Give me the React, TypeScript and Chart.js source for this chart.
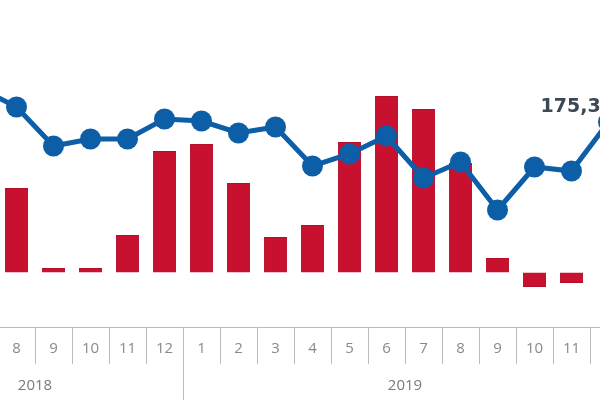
import React, { useEffect, useRef } from "react";
import { Chart, registerables } from "chart.js";

Chart.register(...registerables);

const months = ["5", "6", "7", "8", "9", "10", "11", "12", "1", "2", "3", "4", "5", "6", "7", "8", "9", "10", "11", "12"];
const years = ["2018", "2018", "2018", "2018", "2018", "2018", "2018", "2018", "2019", "2019", "2019", "2019", "2019", "2019", "2019", "2019", "2019", "2019", "2019", "2019"];
const barValues: (number | null)[] = [null, null, null, 42.3, 2.2, 2.2, 18.8, 60.8, 64.3, 44.8, 17.8, 23.8, 65.3, 88.3, 81.8, 54.8, 7.3, -7.3, -5.3, null];
const lineValues: (number | null)[] = [null, null, 209.3, 190.3, 151.3, 158.3, 158.3, 178.3, 176.3, 164.3, 170.3, 131.3, 143.3, 161.3, 119.3, 135.3, 87.3, 130.3, 126.3, 175.3];
const lastLabel = "175,3";

const RED = "#c8112e";
const BLUE = "#0c5ea7";

export default function App() {
  const ref = useRef<HTMLCanvasElement | null>(null);
  useEffect(() => {
    if (!ref.current) return;
    const overlay = {
      id: "overlay",
      afterDraw(chart: any) {
        const ctx = chart.ctx;
        const x = chart.scales.x;
        const area = chart.chartArea;
        ctx.save();
        for (let i = 1; i < years.length; i++) {
          if (years[i] !== years[i - 1]) {
            const bx = Math.round((x.getPixelForValue(i - 1) + x.getPixelForValue(i)) / 2) + 0.5;
            ctx.strokeStyle = "#bbbbbb";
            ctx.lineWidth = 1;
            ctx.beginPath();
            ctx.moveTo(bx, area.bottom);
            ctx.lineTo(bx, chart.height);
            ctx.stroke();
          }
        }
        ctx.fillStyle = "#7a7a7a";
        ctx.font = "15px 'Open Sans'";
        ctx.textAlign = "center";
        ctx.textBaseline = "middle";
        let start = 0;
        for (let i = 1; i <= years.length; i++) {
          if (i === years.length || years[i] !== years[start]) {
            const cx = (x.getPixelForValue(start) + x.getPixelForValue(i - 1)) / 2;
            ctx.fillText(years[start], cx, area.bottom + 59);
            start = i;
          }
        }
        const meta = chart.getDatasetMeta(0);
        const pt = meta.data[lineValues.length - 1];
        if (pt) {
          ctx.fillStyle = "#3c4955";
          ctx.font = "bold 19px 'DejaVu Sans'";
          ctx.textAlign = "left";
          ctx.fillText(lastLabel, pt.x - 68, pt.y - 15);
        }
        ctx.restore();
      },
    };
    const chart = new Chart(ref.current, {
      type: "bar",
      data: {
        labels: months,
        datasets: [
          {
            type: "line",
            data: lineValues,
            yAxisID: "yLine",
            borderColor: BLUE,
            backgroundColor: BLUE,
            borderWidth: 5,
            pointRadius: 10.5,
            pointBackgroundColor: BLUE,
            pointBorderWidth: 0,
            tension: 0,
            clip: false,
            order: 0,
          } as any,
          {
            type: "bar",
            data: barValues,
            yAxisID: "yBar",
            backgroundColor: RED,
            borderColor: "#b30f2a",
            borderWidth: 1,
            barPercentage: 0.65,
            categoryPercentage: 0.96,
            order: 1,
          } as any,
        ],
      },
      options: {
        responsive: false,
        animation: false,
        devicePixelRatio: 1,
        layout: { padding: 0, autoPadding: false },
        plugins: { legend: { display: false }, tooltip: { enabled: false } },
        scales: {
          x: {
            type: "category",
            offset: true,
            afterFit: (s: any) => {
              s.height = 73;
              s.paddingLeft = 0;
              s.paddingRight = 0;
            },
            border: { display: true, color: "#bbbbbb", width: 1 },
            grid: {
              display: true,
              offset: true,
              drawOnChartArea: false,
              drawTicks: true,
              tickLength: 37,
              color: "#bbbbbb",
              lineWidth: 1,
            },
            ticks: {
              color: "#8a8a8a",
              font: { family: "'Open Sans'", size: 15 },
              padding: -24,
              maxRotation: 0,
              autoSkip: false,
            },
          },
          yBar: { display: false, min: -27.25, max: 136.25 },
          yLine: { display: false, min: -29.7, max: 297.3 },
        },
      },
      plugins: [overlay],
    });
    return () => chart.destroy();
  }, []);
  return (
    <div style={{ position: "fixed", left: 0, top: 0, width: 600, height: 400, overflow: "hidden", background: "#fff" }}>
      <canvas ref={ref} width={740} height={400} style={{ position: "absolute", left: -113, top: 0, width: 740, height: 400 }} />
    </div>
  );
}
